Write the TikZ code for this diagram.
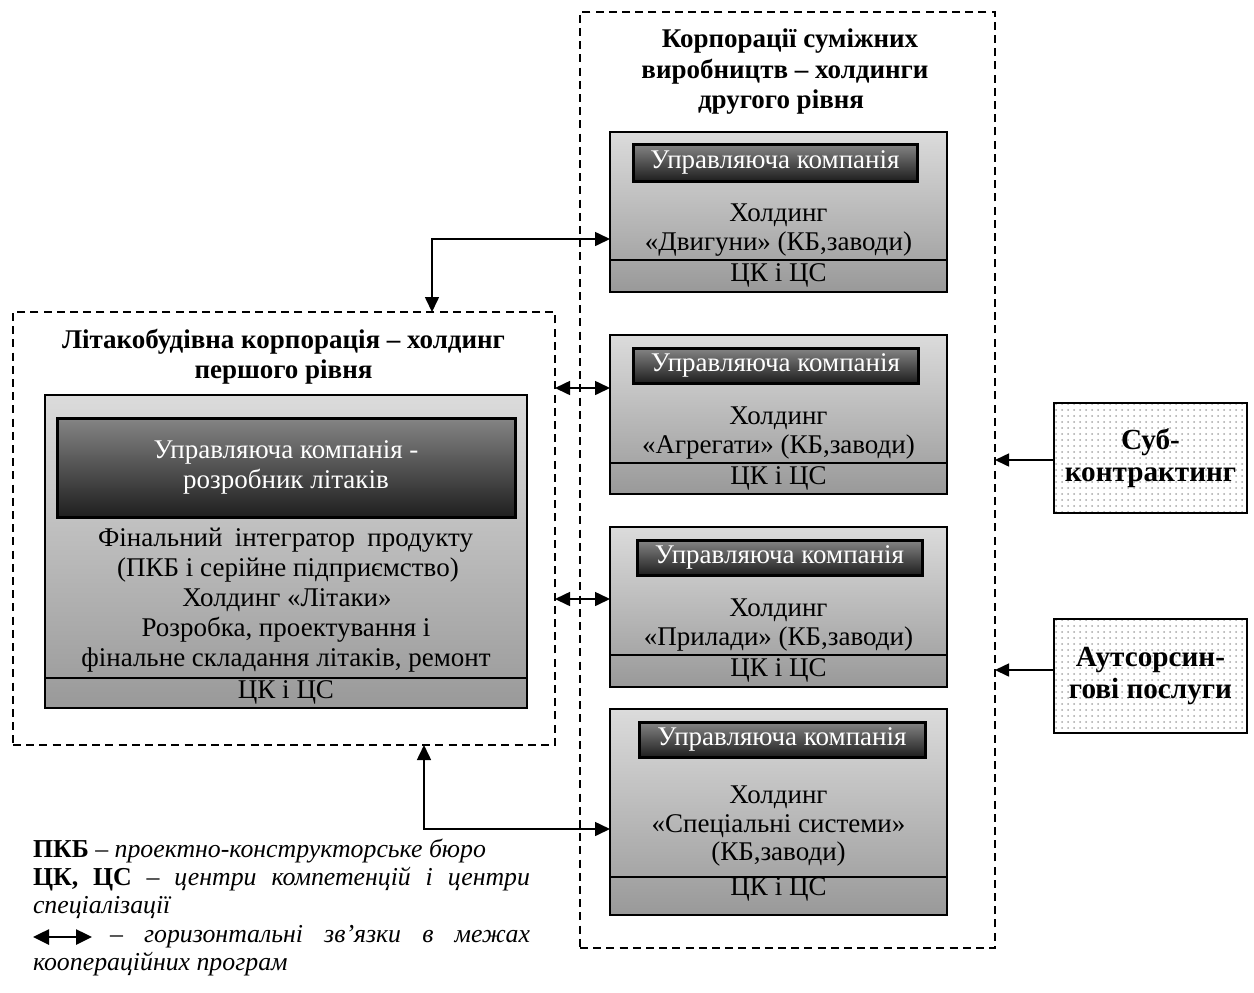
\documentclass[tikz,border=0pt]{standalone}
\usepackage{fontspec}
\setmainfont{Liberation Serif}
\usetikzlibrary{arrows.meta,patterns}
\begin{document}
\begin{tikzpicture}[x=0.5pt,y=-0.5pt,
  every node/.style={inner sep=0pt,outer sep=0pt},
  txt/.style={anchor=base,font=\fontsize{13.5}{15}\selectfont},
  lgd/.style={anchor=base west,font=\fontsize{12.9}{14.5}\selectfont},
  ttl/.style={anchor=base,font=\fontsize{13.5}{15}\selectfont\bfseries},
  dashbox/.style={draw,line width=0.8pt,dash pattern=on 4pt off 2.6pt},
  holding/.style={draw,line width=0.6pt,top color=black!14,bottom color=black!40},
  mgmt/.style={draw,line width=1.5pt,top color=black!48,bottom color=black!88,text=white,font=\fontsize{13.5}{15}\selectfont},
  extbox/.style={draw,line width=0.8pt,pattern=dots,pattern color=black!35,align=center,font=\fontsize{14.6}{15.8}\selectfont\bfseries},
  conn/.style={line width=0.8pt,{Triangle[length=7.5pt,width=7pt]}-{Triangle[length=7.5pt,width=7pt]}},
  oneway/.style={line width=0.8pt,-{Triangle[length=7pt,width=6.5pt]}},
  sep/.style={line width=0.6pt}
]
\useasboundingbox (0,0) rectangle (1254,992);

% dashed corporations
\node[dashbox,minimum width=207.5pt,minimum height=468pt] (R) at (787.5,480) {};
\node[dashbox,minimum width=271pt,minimum height=216.5pt] (L) at (284,528.5) {};

% titles
\node[ttl] (rt1) at (790,47) {Корпорації суміжних};
\node[ttl] (rt2) at (785,78) {виробництв – холдинги};
\node[ttl] (rt3) at (781,108) {другого рівня};
\node[ttl] (lt1) at (283.5,348) {Літакобудівна корпорація – холдинг};
\node[ttl] (lt2) at (283.5,378) {першого рівня};

% second-level holdings
\node[holding,minimum width=168.5pt,minimum height=80pt] (B1) at (778.5,212) {};
\node[holding,minimum width=168.5pt,minimum height=79.5pt] (B2) at (778.5,414.5) {};
\node[holding,minimum width=168.5pt,minimum height=80pt] (B3) at (778.5,607) {};
\node[holding,minimum width=168.5pt,minimum height=103pt] (B4) at (778.5,812) {};

\draw[sep] (B1.west |- 0,260) -- (B1.east |- 0,260);
\draw[sep] (B2.west |- 0,463) -- (B2.east |- 0,463);
\draw[sep] (B3.west |- 0,655) -- (B3.east |- 0,655);
\draw[sep] (B4.west |- 0,877) -- (B4.east |- 0,877);

\node[mgmt,minimum width=142pt,minimum height=18.5pt] (H1) at (775,162.5) {Управляюча компанія};
\node[mgmt,minimum width=142.5pt,minimum height=17.5pt] (H2) at (775.5,365.5) {Управляюча компанія};
\node[mgmt,minimum width=142.5pt,minimum height=17.5pt] (H3) at (779.5,557.5) {Управляюча компанія};
\node[mgmt,minimum width=143pt,minimum height=17.5pt] (H4) at (782,739.5) {Управляюча компанія};

\node[txt] (b1a) at (778.5,221.5) {Холдинг};
\node[txt] (b1b) at (778.5,250) {«Двигуни» (КБ,заводи)};
\node[txt] (b1c) at (778.5,281.5) {ЦК і ЦС};

\node[txt] (b2a) at (778.5,424.5) {Холдинг};
\node[txt] (b2b) at (778.5,453) {«Агрегати» (КБ,заводи)};
\node[txt] (b2c) at (778.5,484.5) {ЦК і ЦС};

\node[txt] (b3a) at (778.5,616.5) {Холдинг};
\node[txt] (b3b) at (778.5,645) {«Прилади» (КБ,заводи)};
\node[txt] (b3c) at (778.5,676.5) {ЦК і ЦС};

\node[txt] (b4a) at (778.5,803) {Холдинг};
\node[txt] (b4b) at (778.5,832) {«Спеціальні системи»};
\node[txt] (b4c) at (778.5,860.5) {(КБ,заводи)};
\node[txt] (b4d) at (778.5,895) {ЦК і ЦС};

% first-level holding
\node[holding,minimum width=241pt,minimum height=156.5pt] (LI) at (286,551.5) {};
\draw[sep] (LI.west |- 0,678) -- (LI.east |- 0,678);
\node[mgmt,minimum width=229pt,minimum height=49.5pt,align=center] (LH) at (286,467.5)
  {Управляюча компанія -\\розробник літаків};
\node[txt] (l1) at (285.5,546.5) {\makebox[187.5pt][s]{Фінальний  інтегратор  продукту}};
\node[txt] (l2) at (288,576.5) {(ПКБ і серійне підприємство)};
\node[txt] (l3) at (287,606.5) {Холдинг «Літаки»};
\node[txt] (l4) at (286,636.5) {Розробка, проектування і};
\node[txt] (l5) at (286,666.5) {фінальне складання літаків, ремонт};
\node[txt] (l6) at (286,698) {ЦК і ЦС};

% external services
\node[extbox,minimum width=96.5pt,minimum height=55pt] (S1) at (1150.5,458) {Суб-\\контрактинг};
\node[extbox,minimum width=96.5pt,minimum height=57pt] (S2) at (1150.5,676) {Аутсорсин-\\гові послуги};

% connectors
\coordinate (c1) at (432,239);
\draw[conn] (c1 |- L.north) -- (c1) -- (c1 -| B1.west);
\coordinate (h1) at (0,388);
\draw[conn] (h1 -| L.east) -- (h1 -| B2.west);
\coordinate (h2) at (0,599);
\draw[conn] (h2 -| L.east) -- (h2 -| B3.west);
\coordinate (c2) at (424,829);
\draw[conn] (c2 |- L.south) -- (c2) -- (c2 -| B4.west);
\coordinate (s1y) at (0,460);
\draw[oneway] (s1y -| S1.west) -- (s1y -| R.east);
\coordinate (s2y) at (0,670);
\draw[oneway] (s2y -| S2.west) -- (s2y -| R.east);

% legend
\node[lgd] (g1) at (33,857) {\textbf{ПКБ} – \textit{проектно-конструкторське бюро}};
\node[lgd] (g2) at (33,885) {\makebox[248.5pt][s]{\textbf{ЦК, ЦС} – \textit{центри компетенцій і центри}}};
\node[lgd] (g3) at (33,913) {\textit{спеціалізації}};
\coordinate (la1) at (33,937);
\coordinate (la2) at (92,937);
\draw[line width=1.3pt,{Triangle[length=8pt,width=7.5pt]}-{Triangle[length=8pt,width=7.5pt]}] (la1) -- (la2);
\node[lgd] (g4) at (110,942) {\makebox[210pt][s]{– \textit{горизонтальні зв’язки в межах}}};
\node[lgd] (g5) at (33,970) {\textit{кооперацiйних програм}};
\end{tikzpicture}
\end{document}
